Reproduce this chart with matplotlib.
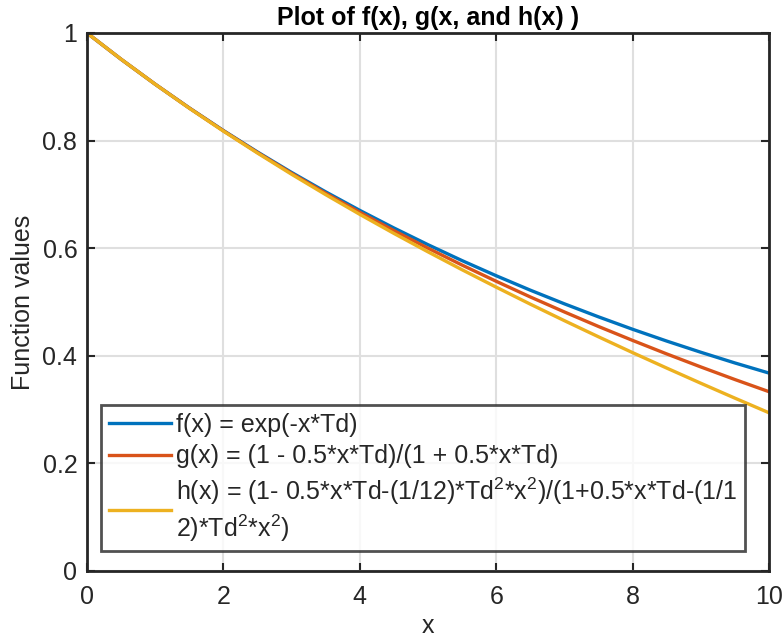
import matplotlib
matplotlib.use("Agg")
import matplotlib.pyplot as plt

plt.rcParams['font.family'] = ['Liberation Sans', 'DejaVu Sans']
plt.rcParams['mathtext.fontset'] = 'custom'
plt.rcParams['mathtext.rm'] = 'Liberation Sans'
plt.rcParams['mathtext.it'] = 'Liberation Sans:italic'

x_vals = [0, 0.5, 1, 1.5, 2, 2.5, 3, 3.5, 4, 4.5, 5, 5.5, 6, 6.5, 7, 7.5, 8, 8.5, 9, 9.5, 10]
f_vals = [1.0, 0.9512, 0.9048, 0.8607, 0.8187, 0.7788, 0.7408, 0.7047, 0.6703, 0.6376,
          0.6065, 0.5769, 0.5488, 0.5220, 0.4966, 0.4724, 0.4493, 0.4274, 0.4066, 0.3867, 0.3679]
g_vals = [1.0, 0.9512, 0.9048, 0.8605, 0.8182, 0.7778, 0.7391, 0.7021, 0.6667, 0.6327,
          0.6000, 0.5686, 0.5385, 0.5094, 0.4815, 0.4545, 0.4286, 0.4035, 0.3793, 0.3559, 0.3333]
h_vals = [1.0, 0.9512, 0.9047, 0.8602, 0.8176, 0.7768, 0.7374, 0.6995, 0.6629, 0.6275,
          0.5932, 0.5599, 0.5276, 0.4960, 0.4653, 0.4353, 0.4059, 0.3772, 0.3490, 0.3213, 0.2941]

labels = [
    "f(x) = exp(-x*Td)",
    "g(x) = (1 - 0.5*x*Td)/(1 + 0.5*x*Td)",
    "h(x) = (1- 0.5*x*Td-(1/12)*Td$^{\\mathrm{2}}$*x$^{\\mathrm{2}}$)/(1+0.5*x*Td-(1/1\n2)*Td$^{\\mathrm{2}}$*x$^{\\mathrm{2}}$)",
]
colors = ["#0072BD", "#D95319", "#EDB120"]
x_ticks = [0, 2, 4, 6, 8, 10]
y_ticks = [0, 0.2, 0.4, 0.6, 0.8, 1]
y_ticklabels = ["0", "0.2", "0.4", "0.6", "0.8", "1"]

FS = 18
W, H = 783, 643
fig = plt.figure(figsize=(W / 100, H / 100), dpi=100)
ax = fig.add_axes([87 / W, 1 - 571 / H, (769 - 87) / W, (571 - 33) / H])

for yv, c, lab in zip([f_vals, g_vals, h_vals], colors, labels):
    ax.plot(x_vals, yv, color=c, lw=2.4, label=lab)

ax.set_xlim(0, 10)
ax.set_ylim(0, 1)
ax.set_xticks(x_ticks)
ax.set_yticks(y_ticks)
ax.set_yticklabels(y_ticklabels)
ax.grid(True, color="#dfdfdf", lw=1.5)
ax.set_axisbelow(True)
ax.tick_params(direction="in", top=True, right=True, length=6, width=1.5,
               color="#262626", labelcolor="#262626", labelsize=FS)
ax.tick_params(axis="x", pad=10)
ax.tick_params(axis="y", pad=7)
for s in ax.spines.values():
    s.set_linewidth(2)
    s.set_color("#262626")

ax.set_title("Plot of f(x), g(x, and h(x) )", fontsize=FS, fontweight="bold", color="#000000", pad=6)
ax.set_xlabel("x", fontsize=FS, color="#262626", labelpad=4)
ax.set_ylabel("Function values", fontsize=FS, color="#262626", labelpad=5)

leg = ax.legend(loc="lower left", bbox_to_anchor=(14 / (769 - 87), 20 / (571 - 33)),
                fontsize=FS, frameon=True, fancybox=False, handlelength=2.5,
                handletextpad=0.2, borderpad=0.3, labelspacing=0.3, borderaxespad=0)
leg.get_frame().set_edgecolor("#262626")
leg.get_frame().set_linewidth(2)
for t in leg.get_texts():
    t.set_color("#262626")

fig.savefig("out.png", dpi=100)
